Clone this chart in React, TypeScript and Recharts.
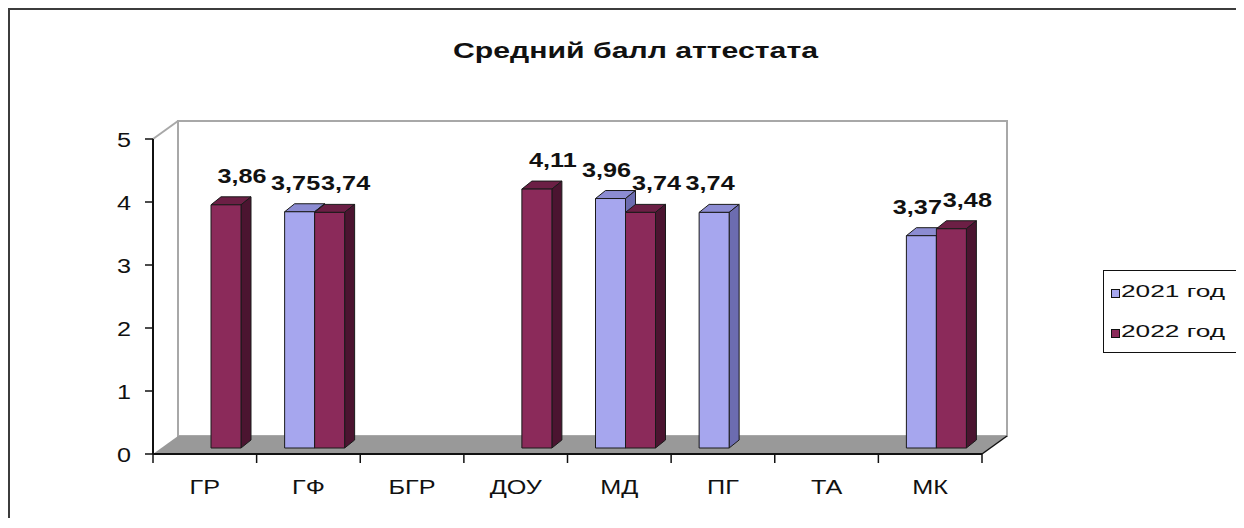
import React from "react";
import { BarChart, Bar, XAxis, YAxis, ReferenceArea, LabelList } from "recharts";

const categories = ["ГР", "ГФ", "БГР", "ДОУ", "МД", "ПГ", "ТА", "МК"];
const values2021 = [null, 3.75, null, null, 3.96, 3.74, null, 3.37];
const values2022 = [3.86, 3.74, null, 4.11, 3.74, null, null, 3.48];
const yTicks = [0, 1, 2, 3, 4, 5];
const seriesNames = ["2021 год", "2022 год"];
const title = "Средний балл аттестата";

const data = categories.map((name, i) => ({
  name,
  y2021: values2021[i],
  y2022: values2022[i],
}));

const W = 1234;
const H = 508;
const FONT = "'Liberation Sans', Arial, sans-serif";
const STRETCH = 1.2; // the original picture is stretched sideways

// 3D look: back wall offset, bar placement inside the depth, bar thickness
const WALL = { dx: 25, dy: -18 };
const BAR_SHIFT = { dx: 6, dy: -6 };
const DEPTH = { dx: 10, dy: -8 };

const colors = {
  y2021: { front: "#a6a6ee", top: "#8c8cd2", side: "#6c6cb0" },
  y2022: { front: "#8b2a5a", top: "#6c1f45", side: "#4b1430" },
};

const make3DBar = (c: { front: string; top: string; side: string }) =>
  function Bar3D(props: any) {
    const { x, y, width, height } = props;
    if (height == null || !(height > 0) || isNaN(y)) return null;
    const fx = x + BAR_SHIFT.dx;
    const fy = y + BAR_SHIFT.dy;
    const { dx, dy } = DEPTH;
    return (
      <g stroke="#1a1a1a" strokeWidth={1} strokeLinejoin="round">
        <polygon
          points={`${fx},${fy} ${fx + dx},${fy + dy} ${fx + width + dx},${fy + dy} ${fx + width},${fy}`}
          fill={c.top}
        />
        <polygon
          points={`${fx + width},${fy} ${fx + width + dx},${fy + dy} ${fx + width + dx},${fy + height + dy} ${fx + width},${fy + height}`}
          fill={c.side}
        />
        <rect x={fx} y={fy} width={width} height={height} fill={c.front} />
      </g>
    );
  };

const makeLabel = (shift: number) =>
  function ValueLabel(props: any) {
    const { x, y, width, value } = props;
    if (value == null) return null;
    const cx = x + width / 2 + shift;
    return (
      <text
        transform={`translate(${cx},${y - 28}) scale(${STRETCH},1)`}
        textAnchor="middle"
        fontFamily={FONT}
        fontWeight="bold"
        fontSize={21}
        fill="#111"
      >
        {Number(value).toFixed(2).replace(".", ",")}
      </text>
    );
  };

function Frame3D(props: any) {
  const { x, y, width, height } = props;
  const { dx, dy } = WALL;
  const x0 = x;
  const x1 = x + width;
  const y0 = y;
  const y1 = y + height;
  const n = categories.length;
  const ticks = Array.from({ length: n + 1 }, (_, i) => x0 + (i * width) / n);
  return (
    <g>
      <polygon
        points={`${x0 + dx},${y0 + dy} ${x1 + dx},${y0 + dy} ${x1 + dx},${y1 + dy} ${x0 + dx},${y1 + dy}`}
        fill="#fff"
        stroke="#a8a8a8"
        strokeWidth={2}
      />
      <line x1={x0} y1={y0} x2={x0 + dx} y2={y0 + dy} stroke="#a8a8a8" strokeWidth={2} />
      <polygon
        points={`${x0},${y1} ${x1},${y1} ${x1 + dx},${y1 + dy} ${x0 + dx},${y1 + dy}`}
        fill="#999"
      />
      <line x1={x1} y1={y1} x2={x1 + dx} y2={y1 + dy} stroke="#111" strokeWidth={1.5} />
      {ticks.map((tx, i) => (
        <line key={i} x1={tx} y1={y1} x2={tx} y2={y1 + 9} stroke="#111" strokeWidth={1.5} />
      ))}
    </g>
  );
}

function XTick(props: any) {
  const { x, y, payload } = props;
  return (
    <text
      transform={`translate(${x},${y + 40}) scale(${STRETCH},1)`}
      textAnchor="middle"
      fontFamily={FONT}
      fontSize={21}
      fill="#111"
    >
      {payload.value}
    </text>
  );
}

function YTick(props: any) {
  const { x, y, payload } = props;
  return (
    <text
      transform={`translate(${x - 14},${y + 8}) scale(${STRETCH},1)`}
      textAnchor="end"
      fontFamily={FONT}
      fontSize={21}
      fill="#111"
    >
      {payload.value}
    </text>
  );
}

export default function App() {
  return (
    <div
      style={{
        position: "relative",
        width: 1234,
        height: 510,
        boxSizing: "border-box",
        borderTop: "2px solid #3c3c3c",
        borderLeft: "2px solid #3c3c3c",
        background: "#fff",
        overflow: "hidden",
      }}
    >
      <BarChart
        width={W}
        height={H}
        data={data}
        margin={{ top: 129, right: 262, left: 83, bottom: 24 }}
        barGap={0}
        barSize={30}
      >
        <ReferenceArea y1={0} y2={5} ifOverflow="visible" shape={<Frame3D />} />
        <XAxis
          dataKey="name"
          interval={0}
          height={40}
          tickSize={0}
          tickMargin={0}
          tickLine={false}
          axisLine={{ stroke: "#111", strokeWidth: 2 }}
          tick={<XTick />}
        />
        <YAxis
          domain={[0, 5]}
          ticks={yTicks}
          width={60}
          tickSize={8}
          tickMargin={0}
          tickLine={{ stroke: "#111", strokeWidth: 1.5 }}
          axisLine={{ stroke: "#111", strokeWidth: 2 }}
          tick={<YTick />}
        />
        <Bar dataKey="y2021" name={seriesNames[0]} shape={make3DBar(colors.y2021)} isAnimationActive={false}>
          <LabelList dataKey="y2021" content={makeLabel(2)} />
        </Bar>
        <Bar dataKey="y2022" name={seriesNames[1]} shape={make3DBar(colors.y2022)} isAnimationActive={false}>
          <LabelList dataKey="y2022" content={makeLabel(22)} />
        </Bar>
      </BarChart>
      <svg
        width={W}
        height={H}
        style={{ position: "absolute", left: 0, top: 0, pointerEvents: "none" }}
      >
        <text
          x={625.5}
          y={48}
          textAnchor="middle"
          fontFamily={FONT}
          fontWeight="bold"
          fontSize={22}
          textLength={365}
          lengthAdjust="spacingAndGlyphs"
          fill="#111"
        >
          {title}
        </text>
        <rect x={1093.5} y={260.5} width={135} height={82} fill="#fff" stroke="#111" strokeWidth={1} />
        {seriesNames.map((s, i) => {
          const c = i === 0 ? colors.y2021 : colors.y2022;
          return (
            <g key={s}>
              <rect x={1101.5} y={279.5 + i * 40} width={8} height={8} fill={c.front} stroke="#111" strokeWidth={1} />
              <text
                x={1111}
                y={287 + i * 40}
                fontFamily={FONT}
                fontSize={17}
                textLength={104}
                lengthAdjust="spacingAndGlyphs"
                fill="#111"
              >
                {s}
              </text>
            </g>
          );
        })}
      </svg>
    </div>
  );
}
